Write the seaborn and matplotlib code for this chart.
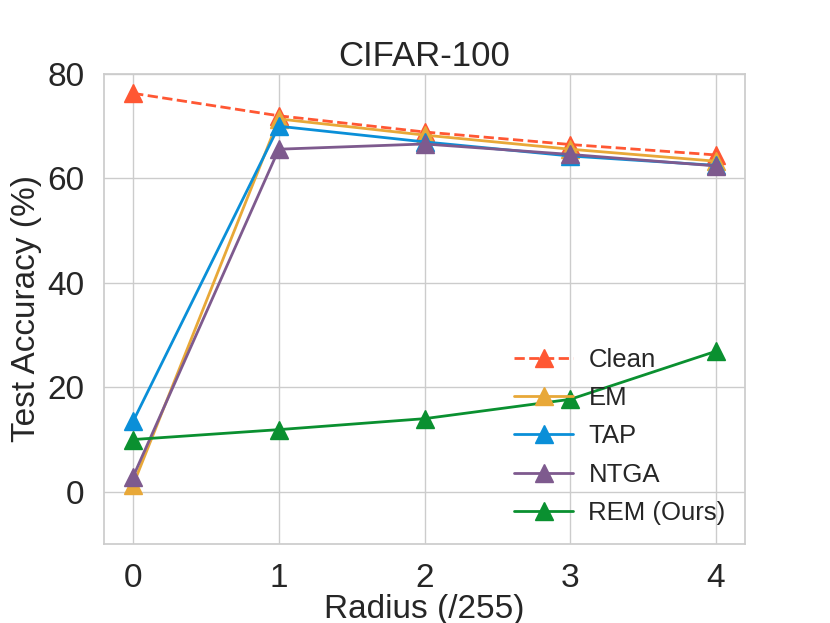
import matplotlib
matplotlib.use("Agg")
import matplotlib.pyplot as plt
import seaborn as sns
import pandas as pd

radius = [0, 1, 2, 3, 4]
clean = [76.3, 72.0, 68.9, 66.5, 64.5]
em = [1.3, 71.4, 68.3, 65.6, 63.3]
tap = [13.5, 70.0, 67.0, 64.3, 62.5]
ntga = [2.9, 65.6, 66.6, 64.6, 62.4]
rem = [10.0, 11.9, 14.0, 17.7, 26.9]

series_names = ["Clean", "EM", "TAP", "NTGA", "REM (Ours)"]
series_values = [clean, em, tap, ntga, rem]
colors = ["#FF5733", "#E8A838", "#0A8FD8", "#7E5A8E", "#0A9030"]
styles = ["--", "-", "-", "-", "-"]

sns.set_theme(style="whitegrid")
plt.rcParams["font.family"] = ["Liberation Sans", "DejaVu Sans"]

fig = plt.figure(figsize=(8.3, 6.23), dpi=100)
ax = fig.add_axes([104/830, 1-544/623, (745-104)/830, (544-74)/623])

for name, vals, c, ls in zip(series_names, series_values, colors, styles):
    df = pd.DataFrame({"Radius": radius, "Acc": vals})
    sns.lineplot(data=df, x="Radius", y="Acc", ax=ax, color=c, linestyle=ls,
                 marker="^", markersize=13, markeredgecolor=c, markeredgewidth=1,
                 linewidth=2, label=name)

ax.set_xlim(-0.2, 4.2)
ax.set_ylim(-10, 80)
ax.set_xticks(radius)
ax.set_yticks([0, 20, 40, 60, 80])
ax.tick_params(labelsize=24, colors="#262626", pad=8)
ax.set_xlabel("Radius (/255)", fontsize=24, color="#262626", labelpad=0)
ax.set_ylabel("Test Accuracy (%)", fontsize=24, color="#262626", labelpad=4)
ax.set_title("CIFAR-100", fontsize=25, color="#262626", pad=6)
for s in ax.spines.values():
    s.set_color("#cccccc")
leg = ax.legend(loc="lower right", frameon=False, fontsize=18.5, handlelength=2.3,
                borderaxespad=0.35, labelspacing=0.55, handletextpad=0.6)
fig.savefig("out.png", dpi=100)
